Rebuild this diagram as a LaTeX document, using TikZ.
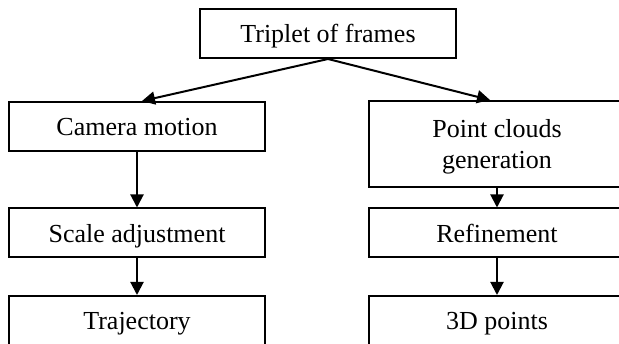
\documentclass[tikz,border=0pt]{standalone}
\usepackage{fontspec}
\setmainfont{Liberation Serif}
\usetikzlibrary{arrows.meta, positioning}
\tikzset{
    stagebox/.style={draw, line width=2pt, minimum width=256pt, minimum height=49pt,
        inner sep=2pt, text depth=0pt, align=center, font=\fontsize{26}{31}\selectfont},
    flowarrow/.style={line width=2pt, -{Triangle[length=13pt, width=13pt]}}
}
\begin{document}
\begin{tikzpicture}[x=1pt, y=-1pt]
    \useasboundingbox (0,0) rectangle (619,344);
    % top of the tree
    \node[stagebox] (triplet) at (328,33.5) {Triplet of frames};
    % left branch
    \node[stagebox] (camera) at (137,126.5) {Camera motion};
    \node[stagebox] (scaleadj) at (137,233) {Scale adjustment};
    \node[stagebox] (traj) at (137,320.5) {Trajectory};
    % right branch
    \node[stagebox, minimum height=86pt] (cloudgen) at (497,144) {Point clouds\\generation};
    \node[stagebox] (refine) at (497,233) {Refinement};
    \node[stagebox] (points) at (497,320.5) {3D points};
    \draw[flowarrow] (triplet.south) -- ([xshift=5pt]camera.north);
    \draw[flowarrow] (triplet.south) -- ([xshift=-7pt]cloudgen.north);
    \draw[flowarrow] (camera) -- (scaleadj);
    \draw[flowarrow] (scaleadj) -- (traj);
    \draw[flowarrow] (cloudgen) -- (refine);
    \draw[flowarrow] (refine) -- (points);
\end{tikzpicture}
\end{document}
